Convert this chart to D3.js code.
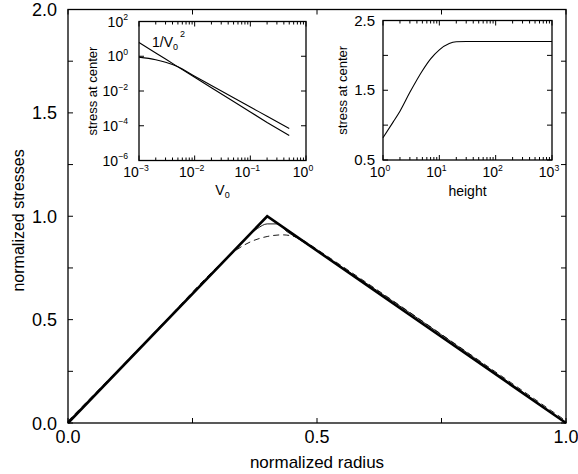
<!DOCTYPE html>
<html><head><meta charset="utf-8">
<script src="https://cdn.jsdelivr.net/npm/d3@7"></script>
<style>body{margin:0;background:#fff}svg{display:block}text{font-family:"Liberation Sans",Arial,Helvetica,sans-serif;fill:#000}</style>
</head><body>
<script>
// ---- main plot data ----
const xTicksMain = [0, 0.5, 1.0];
const yTicksMain = [0, 0.5, 1.0, 1.5, 2.0];
const sharpR = [0, 0.4, 1.0];
const sharpS = [0, 1.0, 0];
const thinR = [0, 0.3, 0.36, 0.38, 0.40, 0.42, 0.44, 0.46, 0.5, 1.0];
const thinS = [0, 0.75, 0.9, 0.94, 0.963, 0.963, 0.925, 0.895, 0.833, 0];
const dashR = [0, 0.1, 0.2, 0.3, 0.34, 0.37, 0.40, 0.43, 0.46, 0.48, 0.5, 0.6, 0.8, 1.0];
const dashS = [0.01, 0.255, 0.505, 0.755, 0.84, 0.88, 0.902, 0.91, 0.898, 0.872, 0.84, 0.678, 0.345, 0.01];
// ---- inset 1 data ----
const v0 = [0.001, 0.002, 0.003, 0.005, 0.01, 0.02, 0.05, 0.1, 0.2, 0.5];
const invV0sq = [6.2, 1.55, 0.69, 0.245, 0.062, 0.0155, 0.00248, 0.00062, 0.000155, 0.0000275];
const centerStressV = [0.89, 0.63, 0.45, 0.25, 0.071, 0.021, 0.0041, 0.0012, 0.00035, 0.000069];
const in1XTicks = [1e-3, 1e-2, 1e-1, 1e0];
const in1YTicks = [1e-6, 1e-4, 1e-2, 1e0, 1e2];
// ---- inset 2 data ----
const heights = [1, 1.5, 2, 3, 5, 7, 10, 15, 20, 30, 50, 100, 1000];
const centerStressH = [0.82, 1.04, 1.2, 1.47, 1.78, 1.95, 2.08, 2.17, 2.195, 2.2, 2.2, 2.2, 2.2];
const in2XTicks = [1, 10, 100, 1000];
const in2YTicks = [0.5, 1.5, 2.5];

const W = 578, H = 474;
const svg = d3.select("body").append("svg").attr("width", W).attr("height", H);

const x = d3.scaleLinear([0, 1], [68, 566]);
const y = d3.scaleLinear([0, 2], [423, 9.5]);

function frame(g, xs, ys) {
  const [x0, x1] = xs.range(), [y0, y1] = ys.range();
  g.append("rect").attr("x", x0).attr("y", y1).attr("width", x1 - x0).attr("height", y0 - y1)
    .attr("fill", "none").attr("stroke", "#000").attr("stroke-width", 1.3);
}
function supLabel(g, xp, yp, exp, size, anchor) {
  const t = g.append("text").attr("x", xp).attr("y", yp).attr("font-size", size).attr("text-anchor", anchor);
  t.append("tspan").text("10");
  t.append("tspan").attr("font-size", size * 0.62).attr("dy", -size * 0.45).text(exp);
  return t;
}

// main frame + ticks
const gm = svg.append("g");
frame(gm, x, y);
const tk = d3.range(0, 1.0001, 0.25);
tk.forEach(v => {
  gm.append("line").attr("x1", x(v)).attr("x2", x(v)).attr("y1", y(0)).attr("y2", y(0) - 5).attr("stroke", "#000");
  gm.append("line").attr("x1", x(v)).attr("x2", x(v)).attr("y1", y(2)).attr("y2", y(2) + 5).attr("stroke", "#000");
});
d3.range(0, 2.0001, 0.25).forEach(v => {
  gm.append("line").attr("x1", x(0)).attr("x2", x(0) + 5).attr("y1", y(v)).attr("y2", y(v)).attr("stroke", "#000");
  gm.append("line").attr("x1", x(1)).attr("x2", x(1) - 5).attr("y1", y(v)).attr("y2", y(v)).attr("stroke", "#000");
});
xTicksMain.forEach(v => gm.append("text").attr("x", x(v)).attr("y", 443).attr("text-anchor", "middle")
  .attr("font-size", 18).text(d3.format(".1f")(v)));
yTicksMain.forEach(v => gm.append("text").attr("x", 57).attr("y", y(v) + 6.5).attr("text-anchor", "end")
  .attr("font-size", 18).text(d3.format(".1f")(v)));
gm.append("text").attr("x", (x(0) + x(1)) / 2).attr("y", 468).attr("text-anchor", "middle").attr("font-size", 17).text("normalized radius");
gm.append("text").attr("transform", `translate(24,${y(0.98)}) rotate(-90)`).attr("text-anchor", "middle").attr("font-size", 16).text("normalized stresses");

const lineM = d3.line().x(d => x(d[0])).y(d => y(d[1]));
gm.append("path").attr("d", lineM(d3.zip(sharpR, sharpS))).attr("fill", "none").attr("stroke", "#000").attr("stroke-width", 2.6);
gm.append("path").attr("d", lineM.curve(d3.curveMonotoneX)(d3.zip(thinR, thinS))).attr("fill", "none").attr("stroke", "#000").attr("stroke-width", 0.9);
gm.append("path").attr("d", lineM.curve(d3.curveMonotoneX)(d3.zip(dashR, dashS))).attr("fill", "none").attr("stroke", "#000").attr("stroke-width", 0.9).attr("stroke-dasharray", "6,4");

// inset 1
const x1 = d3.scaleLog([1e-3, 1], [139, 306]);
const y1 = d3.scaleLog([1e-6, 1e2], [160.5, 21.5]);
const g1 = svg.append("g");
g1.append("rect").attr("x", 139).attr("y", 21.5).attr("width", 167).attr("height", 139).attr("fill", "#fff");
frame(g1, x1, y1);
const minor1 = [];
for (let e = -3; e < 0; e++) for (let m = 1; m < 10; m++) minor1.push(m * Math.pow(10, e));
minor1.push(1);
minor1.forEach(v => {
  const major = Math.abs(Math.log10(v) - Math.round(Math.log10(v))) < 1e-9;
  const L = major ? 5 : 3;
  g1.append("line").attr("x1", x1(v)).attr("x2", x1(v)).attr("y1", 160.5).attr("y2", 160.5 - L).attr("stroke", "#000");
  g1.append("line").attr("x1", x1(v)).attr("x2", x1(v)).attr("y1", 21.5).attr("y2", 21.5 + L).attr("stroke", "#000");
});
in1YTicks.forEach(v => {
  g1.append("line").attr("x1", 139).attr("x2", 144).attr("y1", y1(v)).attr("y2", y1(v)).attr("stroke", "#000");
  g1.append("line").attr("x1", 306).attr("x2", 301).attr("y1", y1(v)).attr("y2", y1(v)).attr("stroke", "#000");
  supLabel(g1, 128, y1(v) + 5, String(Math.round(Math.log10(v))).replace("-", "\u2212"), 14, "end");
});
in1XTicks.forEach(v => supLabel(g1, x1(v) - 3, 177, String(Math.round(Math.log10(v))).replace("-", "\u2212"), 14, "middle"));
{
  const t = g1.append("text").attr("x", x1(Math.sqrt(0.01 * 0.1))).attr("y", 195).attr("text-anchor", "middle").attr("font-size", 14);
  t.append("tspan").text("V");
  t.append("tspan").attr("font-size", 9).attr("dy", 3).text("0");
}
g1.append("text").attr("transform", `translate(97,${(21.5 + 160.5) / 2}) rotate(-90)`).attr("text-anchor", "middle").attr("font-size", 13).text("stress at center");
const l1 = d3.line().x(d => x1(d[0])).y(d => y1(d[1]));
g1.append("path").attr("d", l1(d3.zip(v0, invV0sq))).attr("fill", "none").attr("stroke", "#000").attr("stroke-width", 1.1);
g1.append("path").attr("d", l1.curve(d3.curveMonotoneX)(d3.zip(v0, centerStressV))).attr("fill", "none").attr("stroke", "#000").attr("stroke-width", 1.1);
{
  const t = g1.append("text").attr("x", 152).attr("y", 47).attr("font-size", 14);
  t.append("tspan").text("1/V");
  t.append("tspan").attr("font-size", 9).attr("dy", 3).text("0");
  t.append("tspan").attr("font-size", 9).attr("dy", -13).attr("dx", 2).text("2");
}

// inset 2
const x2 = d3.scaleLog([1, 1000], [383, 552]);
const y2 = d3.scaleLinear([0.5, 2.5], [160, 20.5]);
const g2 = svg.append("g");
g2.append("rect").attr("x", 383).attr("y", 20.5).attr("width", 169).attr("height", 139.5).attr("fill", "#fff");
frame(g2, x2, y2);
const minor2 = [];
for (let e = 0; e < 3; e++) for (let m = 1; m < 10; m++) minor2.push(m * Math.pow(10, e));
minor2.push(1000);
minor2.forEach(v => {
  const major = Math.abs(Math.log10(v) - Math.round(Math.log10(v))) < 1e-9;
  const L = major ? 5 : 3;
  g2.append("line").attr("x1", x2(v)).attr("x2", x2(v)).attr("y1", 160).attr("y2", 160 - L).attr("stroke", "#000");
  g2.append("line").attr("x1", x2(v)).attr("x2", x2(v)).attr("y1", 20.5).attr("y2", 20.5 + L).attr("stroke", "#000");
});
d3.range(0.5, 2.5001, 0.5).forEach(v => {
  g2.append("line").attr("x1", 383).attr("x2", 388).attr("y1", y2(v)).attr("y2", y2(v)).attr("stroke", "#000");
  g2.append("line").attr("x1", 552).attr("x2", 547).attr("y1", y2(v)).attr("y2", y2(v)).attr("stroke", "#000");
});
in2YTicks.forEach(v => g2.append("text").attr("x", 375).attr("y", y2(v) + 5).attr("text-anchor", "end").attr("font-size", 15).text(d3.format(".1f")(v)));
in2XTicks.forEach(v => supLabel(g2, x2(v) - 3, 177, String(Math.round(Math.log10(v))), 14, "middle"));
g2.append("text").attr("x", (383 + 552) / 2).attr("y", 196).attr("text-anchor", "middle").attr("font-size", 14).text("height");
g2.append("text").attr("transform", `translate(347,${(20.5 + 160) / 2}) rotate(-90)`).attr("text-anchor", "middle").attr("font-size", 13).text("stress at center");
const l2 = d3.line().x(d => x2(d[0])).y(d => y2(d[1])).curve(d3.curveMonotoneX);
g2.append("path").attr("d", l2(d3.zip(heights, centerStressH))).attr("fill", "none").attr("stroke", "#000").attr("stroke-width", 1.1);
</script>
</body></html>
